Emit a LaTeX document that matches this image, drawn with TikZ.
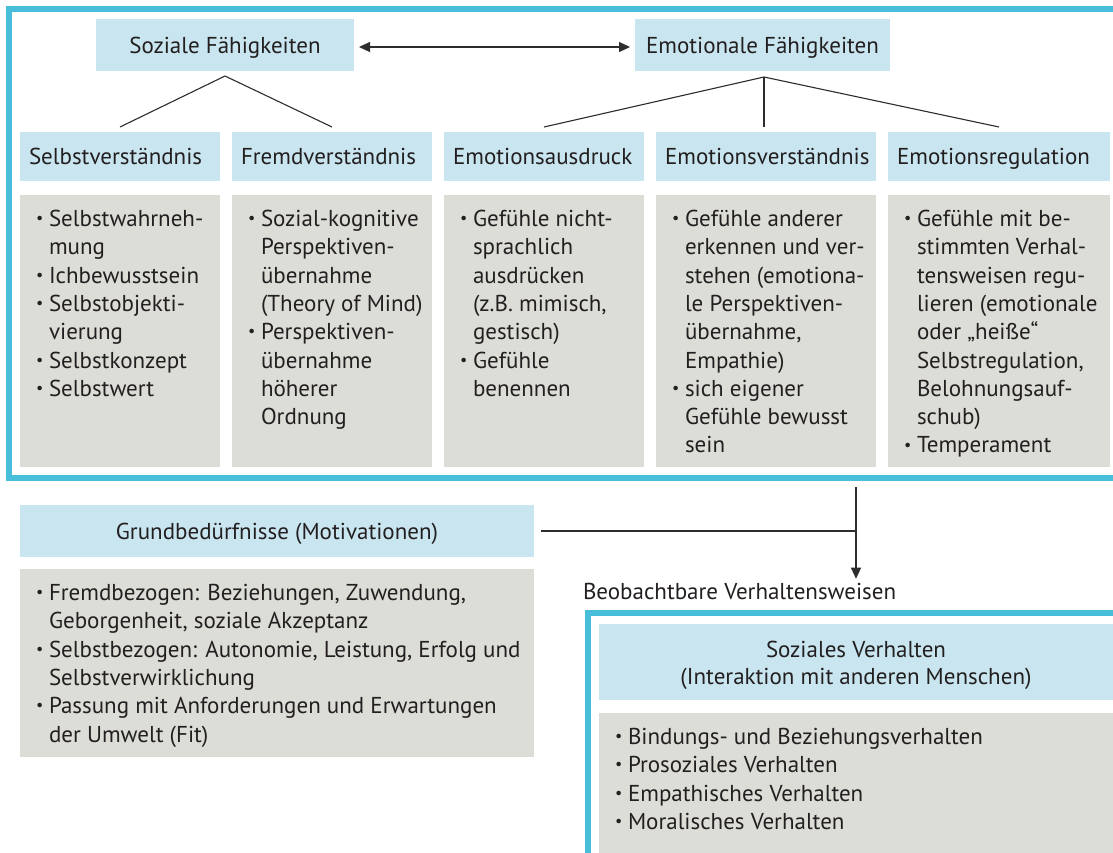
\documentclass[tikz,border=0pt]{standalone}
\usepackage{fontspec}
\setmainfont{PT Sans}
\usetikzlibrary{arrows.meta}

\definecolor{framecyan}{RGB}{72,190,219}
\definecolor{headfill}{RGB}{201,230,240}
\definecolor{listfill}{RGB}{221,221,215}
\definecolor{ink}{RGB}{35,31,32}
\definecolor{linecol}{RGB}{45,45,45}

% bullet and hanging indent for the list boxes
\newcommand\bul{\makebox[13pt][l]{\raisebox{0.25ex}{\scalebox{0.7}{\textbullet}}}}
\newcommand\cont{\hspace*{13pt}}
% fixed height for the first line, so that the top of a list node is 18pt above its first baseline
\newcommand\topline{\rule{0pt}{18pt}}

\begin{document}
\begin{tikzpicture}[x=1pt,y=-1pt,
  every node/.style={inner sep=0pt,outer sep=0pt,text=ink},
  bodyfont/.style={font=\fontsize{23}{28.3}\selectfont},
  headbox/.style={fill=headfill,bodyfont,text height=18pt,text depth=2pt},
  labelbox/.style={headbox,anchor=north west,minimum height=49pt,inner xsep=9pt,align=left},
  listbox/.style={fill=listfill,anchor=north west},
  listtext/.style={bodyfont,align=left,anchor=north west},
  frameline/.style={draw=framecyan,line width=6pt,anchor=north west},
  conn/.style={draw=linecol,line width=1.1pt},
  tipped/.style={-{Triangle[length=11pt,width=10pt]}},
  bothtipped/.style={{Triangle[length=11pt,width=10pt]}-{Triangle[length=11pt,width=10pt]}}
]
\useasboundingbox (0,0) rectangle (1113,852);
\clip (0,0) rectangle (1113,852);
\fill[white] (0,0) rectangle (1113,852);

% ---------- frame around the abilities ----------
\node[frameline,minimum width=1140pt,minimum height=469pt] (kern) at (9,9) {};

% top level
\node[headbox,anchor=north west,minimum width=258pt,minimum height=52pt] (soz) at (96,19) {Soziale Fähigkeiten};
\node[headbox,anchor=north west,minimum width=255pt,minimum height=52pt] (emo) at (635,19) {Emotionale Fähigkeiten};
\draw[conn,bothtipped] ([xshift=5pt,yshift=-2pt]soz.east) -- ([xshift=-5pt,yshift=-2pt]emo.west);

% second level labels
\node[labelbox,text width=182pt] (sv) at (20,132) {Selbstverständnis};
\node[labelbox,text width=182pt] (fv) at (232,132) {Fremdverständnis};
\node[labelbox,text width=182pt] (ea) at (444,132) {Emotionsausdruck};
\node[labelbox,text width=202pt] (ev) at (656,132) {Emotionsverständnis};
\node[labelbox,text width=204pt] (er) at (888,132) {Emotionsregulation};

\coordinate (sozfoot) at ([yshift=-5pt]soz.south);
\coordinate (emofoot) at ([xshift=1.5pt,yshift=-6pt]emo.south);
\draw[conn] ([yshift=5pt]sv.north) -- (sozfoot) -- ([yshift=5pt]fv.north);
\draw[conn] ([yshift=5pt]ea.north) -- (emofoot) -- ([yshift=5pt]er.north);
\draw[conn] (emofoot) -- ([yshift=5pt]ev.north -| emofoot);

% list boxes
\node[listbox,minimum width=200pt,minimum height=272pt] (g1) at (20,195) {};
\node[listbox,minimum width=200pt,minimum height=272pt] (g2) at (232,195) {};
\node[listbox,minimum width=200pt,minimum height=272pt] (g3) at (444,195) {};
\node[listbox,minimum width=220pt,minimum height=272pt] (g4) at (656,195) {};
\node[listbox,minimum width=222pt,minimum height=272pt] (g5) at (888,195) {};

\node[listtext] (t1) at ([xshift=16pt,yshift=-13.5pt]g1.north west)
  {\topline\bul Selbstwahrneh-\\ \cont mung\\ \bul Ichbewusstsein\\ \bul Selbstobjekti-\\ \cont vierung\\ \bul Selbstkonzept\\ \bul Selbstwert};
\node[listtext] (t2) at ([xshift=16pt,yshift=-13.5pt]g2.north west)
  {\topline\bul Sozial-kognitive\\ \cont Perspektiven-\\ \cont übernahme\\ \cont (Theory of Mind)\\ \bul Perspektiven-\\ \cont übernahme\\ \cont höherer\\ \cont Ordnung};
\node[listtext] (t3) at ([xshift=16pt,yshift=-13.5pt]g3.north west)
  {\topline\bul Gefühle nicht-\\ \cont sprachlich\\ \cont ausdrücken\\ \cont (z.B. mimisch,\\ \cont gestisch)\\ \bul Gefühle\\ \cont benennen};
\node[listtext] (t4) at ([xshift=16pt,yshift=-13.5pt]g4.north west)
  {\topline\bul Gefühle anderer\\ \cont erkennen und ver-\\ \cont stehen (emotiona-\\ \cont le Perspektiven-\\ \cont übernahme,\\ \cont Empathie)\\ \bul sich eigener\\ \cont Gefühle bewusst\\ \cont sein};
\node[listtext] (t5) at ([xshift=16pt,yshift=-13.5pt]g5.north west)
  {\topline\bul Gefühle mit be-\\ \cont stimmten Verhal-\\ \cont tensweisen regu-\\ \cont lieren (emotionale\\ \cont oder „heiße“\\ \cont Selbstregulation,\\ \cont Belohnungsauf-\\ \cont schub)\\ \bul Temperament};

% ---------- basic needs ----------
\node[headbox,anchor=north west,minimum width=514pt,minimum height=52pt] (gb) at (20,505) {Grundbedürfnisse (Motivationen)};
\node[listbox,minimum width=514pt,minimum height=188pt] (g6) at (20,569) {};
\node[listtext] (t6) at ([xshift=16pt,yshift=-13.5pt]g6.north west)
  {\topline\bul Fremdbezogen: Beziehungen, Zuwendung,\\ \cont Geborgenheit, soziale Akzeptanz\\ \bul Selbstbezogen: Autonomie, Leistung, Erfolg und\\ \cont Selbstverwirklichung\\ \bul Passung mit Anforderungen und Erwartungen\\ \cont der Umwelt (Fit)};

% ---------- observable behaviour ----------
\node[bodyfont,anchor=base west] (beo) at (583,599) {Beobachtbare Verhaltensweisen};
\node[frameline,minimum width=560pt,minimum height=280pt] (verh) at (588,613) {};
\node[listbox,fill=headfill,minimum width=514pt,minimum height=76pt] (sv2) at (599,624) {};
\node[font=\fontsize{23}{27}\selectfont,align=center,anchor=north] (sv2t) at (856,639) {\topline Soziales Verhalten\\(Interaktion mit anderen Menschen)};
\node[listbox,minimum width=514pt,minimum height=150pt] (g7) at (599,713) {};
\node[listtext] (t7) at ([xshift=16pt,yshift=-13.5pt]g7.north west)
  {\topline\bul Bindungs- und Beziehungsverhalten\\ \bul Prosoziales Verhalten\\ \bul Empathisches Verhalten\\ \bul Moralisches Verhalten};

% connectors into the behaviour
\coordinate (kb) at (856,487);
\draw[conn] ([xshift=7pt]gb.east) -- (gb.east -| kb);
\draw[conn,tipped] (kb) -- ([yshift=4pt]beo.north -| kb);
\end{tikzpicture}
\end{document}
